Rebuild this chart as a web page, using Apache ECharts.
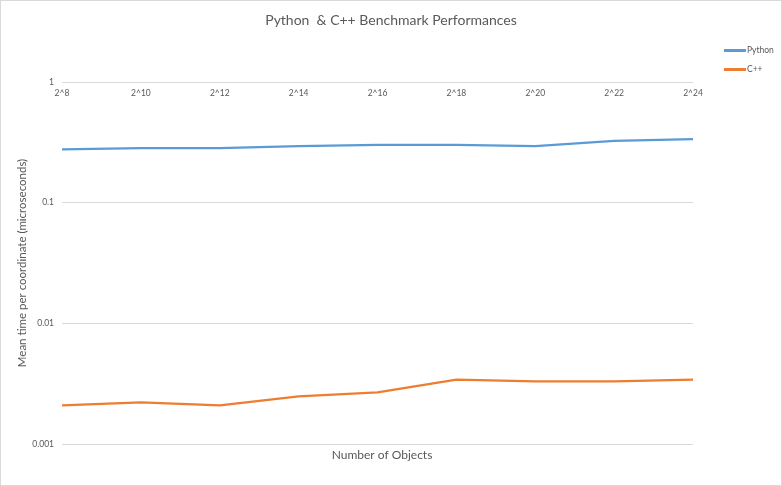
<!DOCTYPE html>
<html>
<head>
<meta charset="utf-8">
<script src="https://cdn.jsdelivr.net/npm/echarts@6/dist/echarts.min.js"></script>
<style>
  html, body { margin: 0; padding: 0; background: #fff; }
  #chart { width: 782px; height: 486px; box-sizing: border-box; border: 1px solid #d9d9d9; }
</style>
</head>
<body>
<div id="chart"></div>
<script>
"use strict";
// categories: number of objects
var categories = ["2^8", "2^10", "2^12", "2^14", "2^16", "2^18", "2^20", "2^22", "2^24"];
// mean time per coordinate (microseconds)
var pythonTimes = [0.276, 0.283, 0.283, 0.294, 0.301, 0.301, 0.294, 0.325, 0.336];
var cppTimes = [0.00209, 0.00221, 0.00209, 0.00248, 0.00268, 0.00341, 0.00330, 0.00330, 0.00341];

var textColor = "#595959";
var font = "Lato, 'Open Sans', sans-serif";

var chart = echarts.init(document.getElementById("chart"));
chart.setOption({
    animation: false,
    textStyle: {fontFamily: font},
    title: [
        {
            text: "Python  & C++ Benchmark Performances",
            left: "center", top: 7,
            textStyle: {fontSize: 14, fontWeight: "normal", color: textColor, fontFamily: font}
        },
        {
            text: "Number of Objects",
            left: 376, top: 443, textAlign: "center",
            textStyle: {fontSize: 12, fontWeight: "normal", color: textColor, fontFamily: font}
        }
    ],
    legend: {
        orient: "vertical", left: 718, top: 40, itemGap: 10,
        itemWidth: 22, itemHeight: 3,
        icon: "rect",
        textStyle: {fontSize: 8.5, color: textColor, padding: [0, 0, 0, -4]},
        data: ["Python", "C++"]
    },
    grid: {left: 61, right: 88, top: 81, bottom: 41, containLabel: false},
    xAxis: {
        type: "category", position: "top", boundaryGap: false,
        data: categories,
        axisLine: {show: false},
        axisTick: {show: false},
        axisLabel: {inside: true, margin: 7, fontSize: 8.5, color: textColor},
        splitLine: {show: false}
    },
    yAxis: {
        type: "log", logBase: 10, min: 0.001, max: 1,
        name: "Mean time per coordinate (microseconds)",
        nameLocation: "middle", nameGap: 34, nameRotate: 90,
        nameMoveOverlap: false,
        nameTextStyle: {fontSize: 11.5, color: textColor},
        axisLine: {show: false},
        axisTick: {show: false},
        axisLabel: {fontSize: 8.5, color: textColor, margin: 8,
            formatter: function (v) { return String(+v.toPrecision(3)); }},
        splitLine: {lineStyle: {color: "#d9d9d9", width: 1}}
    },
    series: [
        {name: "Python", type: "line", data: pythonTimes, symbol: "none",
         itemStyle: {color: "#5b9bd5"}, lineStyle: {width: 2.25, color: "#5b9bd5"}},
        {name: "C++", type: "line", data: cppTimes, symbol: "none",
         itemStyle: {color: "#ed7d31"}, lineStyle: {width: 2.25, color: "#ed7d31"}}
    ]
});
</script>
</body>
</html>
